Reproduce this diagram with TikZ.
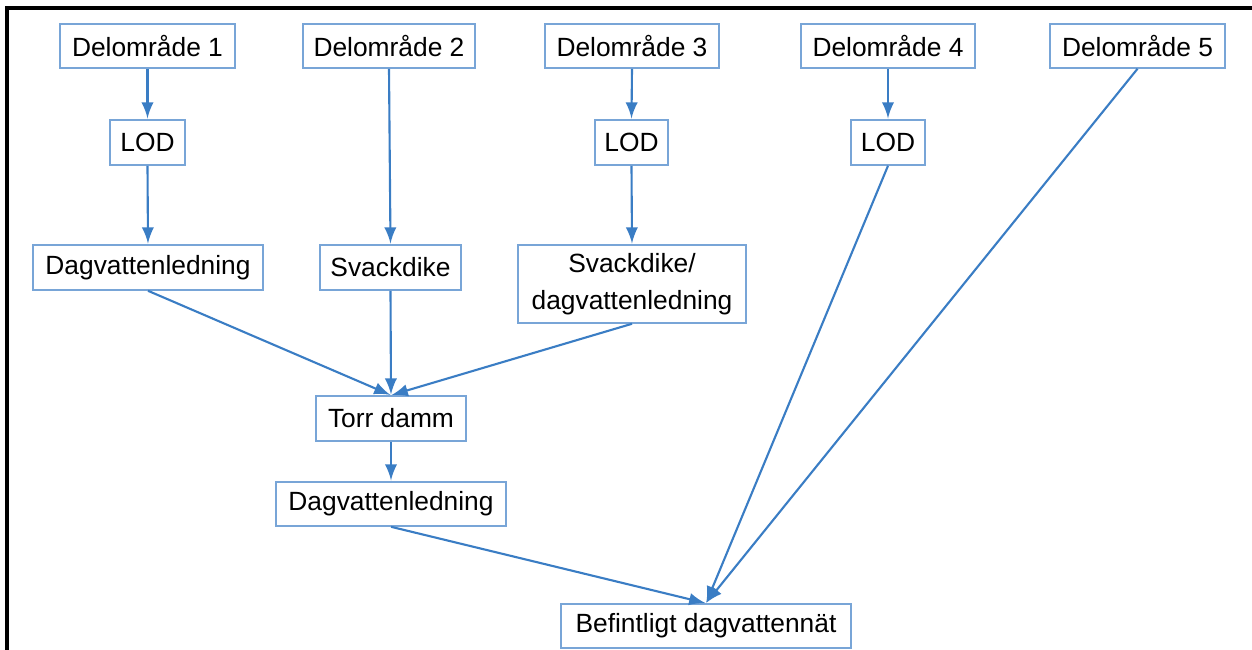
\documentclass[tikz,border=0pt]{standalone}
\usepackage{fontspec}
\setmainfont{Liberation Sans}
\usepackage{tikz}
\usetikzlibrary{arrows}

\definecolor{boxblue}{RGB}{120,165,215}
\definecolor{arrowblue}{RGB}{58,125,196}

\tikzset{
	box/.style={draw=boxblue, line width=0.45pt, fill=white, inner sep=0pt, minimum height=0.44cm, font=\fontsize{7.5}{9.4}\selectfont, align=center},
	flow/.style={draw=arrowblue, line width=0.6pt, -latex, shorten >=0.2pt}
}

\begin{document}
\begin{tikzpicture}
	\useasboundingbox (0,0) rectangle (12.52,-6.5);
	% ram
	\draw[line width=0.9pt] (0.07,-6.6) -- (0.07,-0.08) -- (12.6,-0.08);

	% delomraden
	\node[box, minimum width=1.75cm] (d1) at (1.475,-0.46) {Delområde 1};
	\node[box, minimum width=1.72cm] (d2) at (3.89,-0.46) {Delområde 2};
	\node[box, minimum width=1.74cm] (d3) at (6.32,-0.46) {Delområde 3};
	\node[box, minimum width=1.74cm] (d4) at (8.88,-0.46) {Delområde 4};
	\node[box, minimum width=1.75cm] (d5) at (11.375,-0.46) {Delområde 5};

	\node[box, minimum width=0.75cm, minimum height=0.45cm] (lod1) at (1.475,-1.425) {LOD};
	\node[box, minimum width=0.73cm, minimum height=0.45cm] (lod3) at (6.315,-1.425) {LOD};
	\node[box, minimum width=0.74cm, minimum height=0.45cm] (lod4) at (8.88,-1.425) {LOD};

	\node[box, minimum width=2.30cm, minimum height=0.45cm] (ledn1) at (1.48,-2.675) {Dagvattenledning};
	\node[box, minimum width=1.41cm, minimum height=0.45cm] (svack) at (3.905,-2.675) {Svackdike};
	\node[box, minimum width=2.28cm, minimum height=0.78cm] (svledn) at (6.32,-2.84) {Svackdike/\\[1pt]dagvattenledning};

	\node[box, minimum width=1.50cm, minimum height=0.45cm] (damm) at (3.91,-4.185) {Torr damm};
	\node[box, minimum width=2.30cm, minimum height=0.44cm] (ledn2) at (3.91,-5.04) {Dagvattenledning};
	\node[box, minimum width=2.90cm, minimum height=0.44cm] (befintl) at (7.06,-6.26) {Befintligt dagvattennät};

	% pilar
	\draw[flow] (d1.south) -- (lod1.north);
	\draw[flow] (lod1.south) -- (ledn1.north);
	\draw[flow] (d2.south) -- (svack.north);
	\draw[flow] (d3.south) -- (lod3.north);
	\draw[flow] (lod3.south) -- (svledn.north);
	\draw[flow] (d4.south) -- (lod4.north);
	\draw[flow] (ledn1.south) -- (damm.north);
	\draw[flow] (svack.south) -- (damm.north);
	\draw[flow] (svledn.south) -- (damm.north);
	\draw[flow] (damm.south) -- (ledn2.north);
	\draw[flow] (ledn2.south) -- (befintl.north);
	\draw[flow] (lod4.south) -- (befintl.north);
	\draw[flow] (d5.south) -- (befintl.north);
\end{tikzpicture}
\end{document}
